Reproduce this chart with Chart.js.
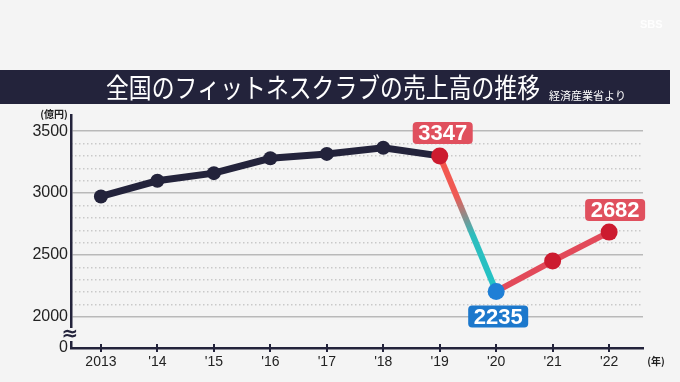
<!DOCTYPE html>
<html><head><meta charset="utf-8">
<script src="https://cdn.jsdelivr.net/npm/chart.js@4/dist/chart.umd.min.js"></script>
<style>html,body{margin:0;padding:0;background:#f4f4f4;}canvas{display:block}</style>
</head><body>
<canvas id="c" width="680" height="382"></canvas>
<script>
// ---- data ----
const years = [2013, 2014, 2015, 2016, 2017, 2018, 2019, 2020, 2021, 2022];
const yearLabels = ["2013", "'14", "'15", "'16", "'17", "'18", "'19", "'20", "'21", "'22"];
const sales = [2973, 3099, 3161, 3281, 3316, 3366, 3300, 2206, 2452, 2685]; // 億円 (as plotted)
const calloutIndex = [6, 7, 9];
const calloutText = ["3347", "2235", "2682"];
const majorTicks = [2000, 2500, 3000, 3500];
const minorTicks = [2100, 2200, 2300, 2400, 2600, 2700, 2800, 2900, 3100, 3200, 3300, 3400];
const axisBase = 1750; // broken axis: bottom shown as "0"
const titleText = "全国のフィットネスクラブの売上高の推移";
const sourceText = "経済産業省より";

const BG = '#f4f4f4', NAVY = '#23233b', RED = '#cc1b2f', BLUE = '#1f7fd6', LRED = '#e24a5a';
const numFont = '"Liberation Sans", Arial, sans-serif';
const jpFont = '"Noto Sans CJK JP", sans-serif';

const decor = {
  id: 'decor',
  beforeDraw(chart) {
    const c = chart.ctx;
    c.save();
    c.fillStyle = BG; c.fillRect(0, 0, chart.width, chart.height);
    c.fillStyle = NAVY; c.fillRect(0, 70, 670, 34);
    c.fillStyle = '#ffffff';
    c.font = '400 27px ' + jpFont; c.textAlign = 'left'; c.textBaseline = 'middle';
    c.fillText(titleText, 106, 88, 434);
    c.font = '400 11px ' + jpFont;
    c.fillText(sourceText, 549, 96, 77);
    c.fillStyle = '#222';
    c.font = 'bold 10px ' + jpFont; c.textAlign = 'center';
    c.fillText('(億円)', 54, 114);
    c.fillText('(年)', 656, 361);
    // faint logo
    c.fillStyle = 'rgba(255,255,255,0.9)';
    c.font = 'bold 11px ' + numFont; c.textAlign = 'left';
    c.fillText('SBS', 640, 25);
    c.restore();
  },
  afterDatasetsDraw(chart) {
    const c = chart.ctx;
    const x = chart.scales.x, y = chart.scales.y;
    const meta = chart.getDatasetMeta(0);
    c.save();
    // x tick marks crossing the axis
    c.strokeStyle = NAVY; c.lineWidth = 2;
    years.forEach(v => {
      const px = Math.round(x.getPixelForValue(v));
      c.beginPath(); c.moveTo(px, y.bottom - 4); c.lineTo(px, y.bottom + 4); c.stroke();
    });
    // axis break symbol
    const ax = x.left;
    c.fillStyle = BG; c.fillRect(ax - 4, 328, 8, 13);
    c.fillStyle = NAVY;
    c.font = 'bold 20px "DejaVu Sans", sans-serif';
    c.textAlign = 'center'; c.textBaseline = 'middle';
    c.fillText('\u2248', ax - 1, 335);
    // callouts
    const offs = [[3, -23], [2, 25], [6, -22]];
    calloutIndex.forEach((idx, k) => {
      const p = meta.data[idx];
      const cx = p.x + offs[k][0], cy = p.y + offs[k][1];
      c.fillStyle = idx === 7 ? '#1c78cc' : '#e0505e';
      c.beginPath(); c.roundRect(cx - 30, cy - 11, 60, 22, 4); c.fill();
      c.fillStyle = '#fff'; c.font = 'bold 22px ' + numFont;
      c.textAlign = 'center'; c.textBaseline = 'middle';
      c.fillText(calloutText[k], cx, cy + 1);
    });
    c.restore();
  }
};

const segColor = (ctx) => {
  const i = ctx.p0DataIndex;
  if (i < 6) return NAVY;
  if (i === 6) {
    const g = ctx.chart.ctx.createLinearGradient(ctx.p0.x, ctx.p0.y, ctx.p1.x, ctx.p1.y);
    g.addColorStop(0, '#f5574c'); g.addColorStop(0.3, '#ee5a55');
    g.addColorStop(0.58, '#2ebdbd'); g.addColorStop(1, '#22c3c6');
    return g;
  }
  return LRED;
};
const segWidth = (ctx) => ctx.p0DataIndex < 6 ? 7 : 6;

new Chart(document.getElementById('c'), {
  type: 'line',
  data: {
    datasets: [{
      data: years.map((yr, i) => ({ x: yr, y: sales[i] })),
      borderColor: NAVY,
      borderWidth: 7,
      segment: { borderColor: segColor, borderWidth: segWidth },
      pointRadius: sales.map((v, i) => i < 6 ? 7 : 8.5),
      pointBackgroundColor: sales.map((v, i) => i < 6 ? NAVY : (i === 7 ? BLUE : RED)),
      pointBorderWidth: 0,
      tension: 0
    }]
  },
  options: {
    responsive: false,
    animation: false,
    events: [],
    layout: { padding: { top: 115, right: 37, left: 0, bottom: 0 } },
    plugins: { legend: { display: false }, tooltip: { enabled: false } },
    scales: {
      x: {
        type: 'linear', min: 2012.47, max: 2022.6,
        afterBuildTicks: s => { s.ticks = years.map(v => ({ value: v })); },
        afterFit: s => { s.height = 34; },
        grid: { display: false, drawTicks: false },
        border: { display: true, color: NAVY, width: 2.5 },
        ticks: {
          padding: 6, color: '#222', font: { family: numFont, size: 14 },
          callback: (v) => yearLabels[years.indexOf(v)] ?? ''
        }
      },
      y: {
        min: axisBase, max: 3630,
        afterBuildTicks: s => { s.ticks = [axisBase, ...majorTicks].map(v => ({ value: v })); },
        afterFit: s => { s.width = 71; },
        grid: {
          drawTicks: false, lineWidth: 1.5,
          color: c => (c.tick && c.tick.value === axisBase) ? 'rgba(0,0,0,0)' : '#b9b9b9'
        },
        border: { display: true, color: NAVY, width: 2.5 },
        ticks: {
          padding: 3, color: '#222', font: { family: numFont, size: 16 },
          callback: v => v === axisBase ? '0' : String(v)
        }
      },
      y2: {
        position: 'left',
        min: axisBase, max: 3630,
        afterBuildTicks: s => { s.ticks = minorTicks.map(v => ({ value: v })); },
        afterFit: s => { s.width = 0; },
        grid: { drawTicks: false, lineWidth: 1.5, color: '#c9c9c9' },
        border: { display: false, dash: [1.5, 2.5] },
        ticks: { display: false }
      }
    }
  },
  plugins: [decor]
});
</script>
</body></html>
